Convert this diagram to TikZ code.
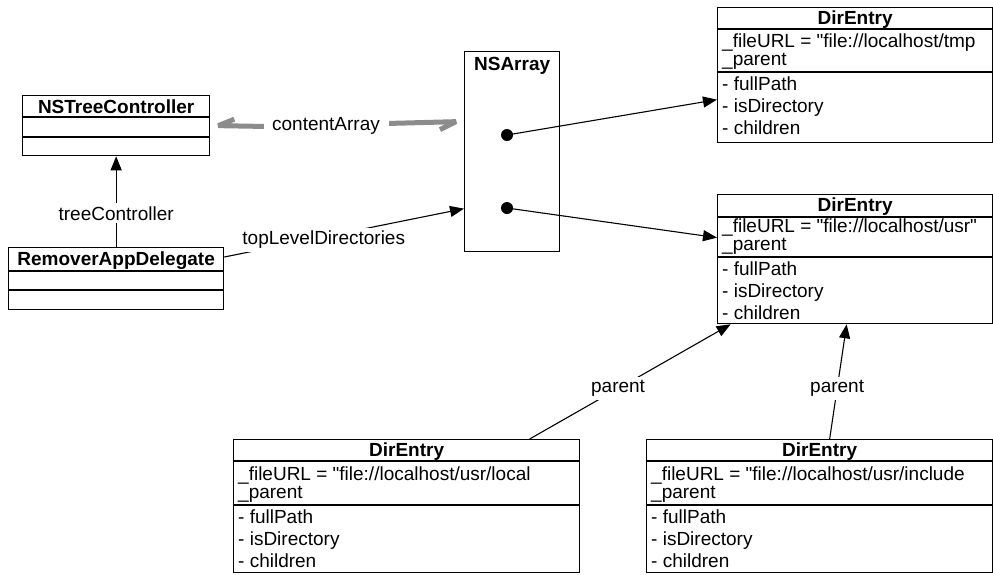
\documentclass[tikz,border=0pt]{standalone}
\usepackage{fontspec}
\defaultfontfeatures{}
\setmainfont{Liberation Sans}[Ligatures=ResetAll]
\usetikzlibrary{arrows.meta,calc}
\definecolor{kvgrey}{RGB}{140,140,140}
\newcommand\dqt{\XeTeXglyph\XeTeXcharglyph"22\relax}
\newcommand\dirbox[8]{%
  \node[cls, minimum width=#4pt, minimum height=#7pt] (#1) at (#2,#3) {};
  \draw[sep] ([yshift=-#5pt]#1.north west) -- ([yshift=-#5pt]#1.north east);
  \draw[sep] ([yshift=-#6pt]#1.north west) -- ([yshift=-#6pt]#1.north east);
  \node[ttl] (#1-t) at ([yshift=-17pt]#1.north) {DirEntry};
  \node[txt] (#1-u) at ($(#1.north west)+(5,{#6-25})$) {\_fileURL = #8};
  \node[txt] (#1-p) at ($(#1.north west)+(5,{#6-6.5})$) {\_parent};
  \node[txt] (#1-m1) at ($(#1.north west)+(5,{#6+18})$) {- fullPath};
  \node[txt] (#1-m2) at ($(#1.north west)+(5,{#6+40})$) {- isDirectory};
  \node[txt] (#1-m3) at ($(#1.north west)+(5,{#6+62})$) {- children};
}
\begin{document}
\begin{tikzpicture}[x=1pt,y=-1pt,
  every node/.style={font=\fontsize{19pt}{22pt}\selectfont},
  cls/.style={draw, line width=1.3pt, inner sep=0pt, anchor=north west, fill=white},
  txt/.style={anchor=base west, inner sep=0pt},
  ttl/.style={anchor=base, inner sep=0pt, font=\fontsize{19pt}{22pt}\selectfont\bfseries},
  sep/.style={line width=1.3pt},
  conn/.style={line width=1.1pt, -{Triangle[length=14pt,width=11pt]}},
  lbl/.style={fill=white, inner xsep=1pt, inner ysep=3pt},
  dot/.style={circle, fill=black, inner sep=0pt, minimum size=12pt},
  greyline/.style={line width=5pt, draw=kvgrey, line join=bevel}
]
\useasboundingbox (0,0) rectangle (993,574);

% NSTreeController
\node[cls, minimum width=187pt, minimum height=60pt] (ntc) at (22,95) {};
\draw[sep] ([yshift=-22pt]ntc.north west) -- ([yshift=-22pt]ntc.north east);
\draw[sep] ([yshift=-42pt]ntc.north west) -- ([yshift=-42pt]ntc.north east);
\node[ttl] (ntc-t) at ([yshift=-18pt]ntc.north) {NSTreeController};

% RemoverAppDelegate
\node[cls, minimum width=215pt, minimum height=62pt] (rad) at (8,247) {};
\draw[sep] ([yshift=-24pt]rad.north west) -- ([yshift=-24pt]rad.north east);
\draw[sep] ([yshift=-43pt]rad.north west) -- ([yshift=-43pt]rad.north east);
\node[ttl] (rad-t) at ([yshift=-18pt]rad.north) {RemoverAppDelegate};

% NSArray
\node[cls, minimum width=95pt, minimum height=200pt] (nsa) at (464,51) {};
\node[ttl] (nsa-t) at ([yshift=-19pt]nsa.north) {NSArray};

% DirEntry boxes
\dirbox{de1}{717}{7}{275}{22}{65}{135}{\dqt{}file://localhost/tmp}
\dirbox{de2}{717}{194}{275}{23}{63}{129}{\dqt{}file://localhost/usr\dqt}
\dirbox{de3}{233}{439}{346}{22}{66}{133}{\dqt{}file://localhost/usr/local}
\dirbox{de4}{646}{439}{346}{22}{66}{133}{\dqt{}file://localhost/usr/include}

% treeController
\draw[conn] (rad.north) -- (ntc.south)
  node[lbl, pos=0.37] (lbl-tc) {treeController};

% topLevelDirectories
\draw[conn] ([yshift=-10pt]rad.north east) -- ([yshift=-57pt]nsa.west)
  node[lbl, pos=0.415, yshift=-3pt] (lbl-tld) {topLevelDirectories};

% contentArray (grey harpoons)
\node[anchor=base, inner sep=0pt] (lbl-ca) at (326,130) {contentArray};
\coordinate (caL0) at ([xshift=-8pt, yshift=-1pt]lbl-ca.west);
\coordinate (caL1) at ([xshift=8pt]ntc.east);
\coordinate (caL2) at ([xshift=24pt, yshift=6.5pt]ntc.east);
\coordinate (caR0) at ([xshift=9pt, yshift=2pt]lbl-ca.east);
\coordinate (caR1) at ([xshift=-8pt, yshift=30pt]nsa.west);
\coordinate (caR2) at ([xshift=-24pt, yshift=22pt]nsa.west);
\draw[greyline] (caL0) -- (caL1) -- (caL2);
\draw[greyline] (caR0) -- (caR1) -- (caR2);

% array elements
\node[dot] (d1) at (507,135) {};
\node[dot] (d2) at (507,208) {};
\draw[conn] (d1.center) -- ([yshift=-24.5pt]de1.west);
\draw[conn] (d2.center) -- ([yshift=21.5pt]de2.west);

% parent links
\draw[conn] ([xshift=123pt]de3.north) -- ([xshift=-124.5pt]de2.south)
  node[lbl, pos=0.44] (lbl-p1) {parent};
\draw[conn] ([xshift=10pt]de4.north) -- ([xshift=-8.5pt]de2.south)
  node[lbl, pos=0.44] (lbl-p2) {parent};
\end{tikzpicture}
\end{document}
